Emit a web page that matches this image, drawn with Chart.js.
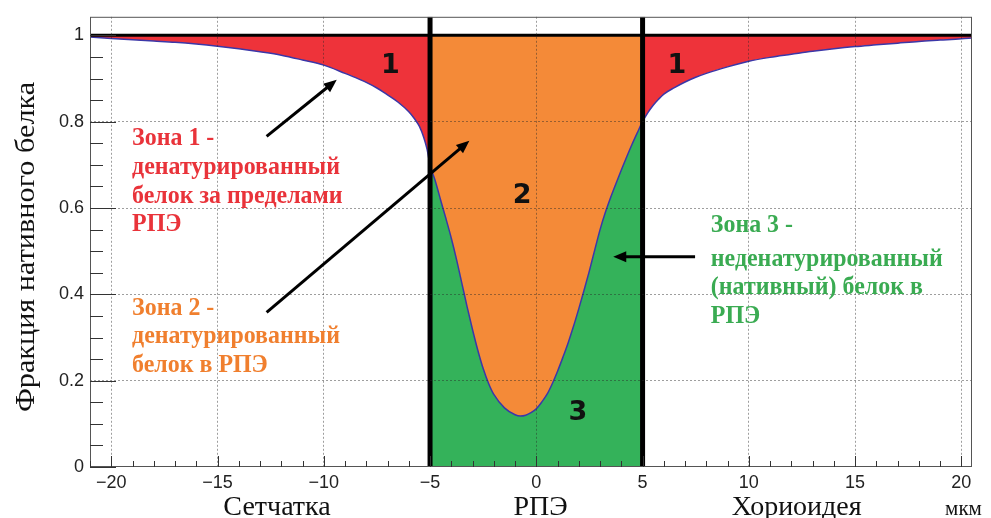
<!DOCTYPE html>
<html lang="ru">
<head>
<meta charset="utf-8">
<title>Фракция нативного белка</title>
<script src="https://cdn.jsdelivr.net/npm/chart.js@4.4.1/dist/chart.umd.min.js"></script>
<style>
  html, body { margin: 0; padding: 0; background: #fff; }
  #chart { display: block; }
</style>
</head>
<body>
<canvas id="chart" width="991" height="518"></canvas>
<script>
// distance across the RPE, um
const posX = [
  -21, -20, -19, -18, -17, -16, -15, -14, -13, -12, -11, -10,
  -9, -8.5, -8, -7.5, -7, -6.5, -6, -5.75, -5.5, -5.3, -5.15, -5,
  -4.75, -4.5, -4.25, -4, -3.75, -3.5, -3.25, -3, -2.75, -2.5, -2.25, -2,
  -1.5, -1, -0.75, -0.5, -0.25, 0, 0.25, 0.5, 0.75, 1, 1.25, 1.5,
  1.75, 2, 2.25, 2.5, 2.75, 3, 3.25, 3.5, 3.75, 4, 4.25, 4.5,
  4.75, 5, 5.25, 5.5, 5.75, 6, 6.5, 7, 7.5, 8, 9, 10,
  11, 12, 13, 14, 15, 16, 17, 18, 19, 20, 20.5
];
// fraction of native protein left
const nativeFrac = [
  0.996, 0.993, 0.990, 0.987, 0.984, 0.980, 0.975, 0.969, 0.962, 0.954, 0.943, 0.931,
  0.912, 0.902, 0.891, 0.878, 0.862, 0.845, 0.823, 0.808, 0.789, 0.764, 0.738, 0.700,
  0.662, 0.618, 0.575, 0.530, 0.480, 0.425, 0.370, 0.318, 0.270, 0.228, 0.194, 0.168,
  0.137, 0.121, 0.118, 0.120, 0.126, 0.135, 0.150, 0.168, 0.193, 0.222, 0.254, 0.288,
  0.326, 0.367, 0.410, 0.455, 0.503, 0.550, 0.590, 0.625, 0.657, 0.688, 0.718, 0.747,
  0.774, 0.800, 0.821, 0.838, 0.852, 0.864, 0.879, 0.892, 0.903, 0.912, 0.927, 0.940,
  0.949, 0.956, 0.963, 0.969, 0.974, 0.978, 0.982, 0.986, 0.989, 0.992, 0.994
];
const rpeEdges = [-5, 5];
const fullLevel = 1;
const xRange = [-21, 20.5];
const yRange = [0, 1.043];
const xMajor = [-20, -15, -10, -5, 0, 5, 10, 15, 20];
const yMajor = [0, 0.2, 0.4, 0.6, 0.8, 1];
const regionNames = ['Сетчатка', 'РПЭ', 'Хориоидея'];
const unitLabel = 'мкм';
const yTitle = 'Фракция нативного белка';
const zoneDigits = ['1', '1', '2', '3'];
const zoneNotes = [
  ['Зона 1 -', 'денатурированный', 'белок за пределами', 'РПЭ'],
  ['Зона 2 -', 'денатурированный', 'белок в РПЭ'],
  ['Зона 3 -', 'неденатурированный', '(нативный) белок в', 'РПЭ']
];

const RED = '#ee333a', ORANGE = '#f48a38', GREEN = '#34b25a';
const gridColor = 'rgba(40,40,40,0.45)';

const pts = posX.map((x, i) => ({ x: x, y: nativeFrac[i] }));
const leftPts = pts.filter(p => p.x <= rpeEdges[0]);
const midPts = pts.filter(p => p.x >= rpeEdges[0] && p.x <= rpeEdges[1]);
const rightPts = pts.filter(p => p.x >= rpeEdges[1]);

const xTickVals = [];
for (let v = Math.ceil(xRange[0]); v <= xRange[1]; v++) xTickVals.push(v);
const yTickVals = [];
for (let i = 0; i <= 20; i++) yTickVals.push(i * 5 / 100);

const isMajorY = v => yMajor.some(m => Math.abs(m - v) < 1e-9);

function fillSet(data, color, target) {
  return {
    data: data, backgroundColor: color, borderColor: 'transparent',
    fill: target, order: 3
  };
}

function text(ctx, str, x, y, font, color, align, sx) {
  ctx.save();
  ctx.translate(x, y);
  ctx.scale(sx || 1, 1);
  ctx.font = font;
  ctx.fillStyle = color;
  ctx.textAlign = align || 'left';
  ctx.fillText(str, 0, 0);
  ctx.restore();
}

function arrow(ctx, x1, y1, x2, y2) {
  const ang = Math.atan2(y2 - y1, x2 - x1);
  const len = 13, half = 5.5;
  ctx.beginPath();
  ctx.moveTo(x1, y1);
  ctx.lineTo(x2 - Math.cos(ang) * len * 0.7, y2 - Math.sin(ang) * len * 0.7);
  ctx.stroke();
  ctx.beginPath();
  ctx.moveTo(x2, y2);
  ctx.lineTo(x2 - Math.cos(ang) * len - Math.sin(ang) * half, y2 - Math.sin(ang) * len + Math.cos(ang) * half);
  ctx.lineTo(x2 - Math.cos(ang) * len + Math.sin(ang) * half, y2 - Math.sin(ang) * len - Math.cos(ang) * half);
  ctx.closePath();
  ctx.fill();
}

// frame, inward ticks, zone notes and arrows
const overlay = {
  id: 'overlay',
  afterDraw(chart) {
    const { ctx, chartArea: a, scales: { x, y } } = chart;
    const px = v => x.getPixelForValue(v);
    const py = v => y.getPixelForValue(v);
    ctx.save();

    ctx.strokeStyle = '#555';
    ctx.lineWidth = 1;
    ctx.strokeRect(a.left + 0.5, a.top + 0.5, a.right - a.left - 1, a.bottom - a.top - 1);

    ctx.strokeStyle = '#333';
    ctx.beginPath();
    x.ticks.forEach(t => {
      const len = xMajor.includes(t.value) ? 11 : 6;
      const X = Math.round(px(t.value)) + 0.5;
      ctx.moveTo(X, a.bottom);
      ctx.lineTo(X, a.bottom - len);
    });
    y.ticks.forEach(t => {
      const len = isMajorY(t.value) ? 26 : 13;
      const Y = Math.round(py(t.value)) + 0.5;
      ctx.moveTo(a.left, Y);
      ctx.lineTo(a.left + len, Y);
    });
    ctx.stroke();

    // axis titles
    ctx.save();
    ctx.translate(27, 247);
    ctx.rotate(-Math.PI / 2);
    ctx.scale(1.12, 1);
    ctx.font = '27px "Liberation Serif", "Times New Roman", serif';
    ctx.fillStyle = '#111';
    ctx.textAlign = 'center';
    ctx.textBaseline = 'middle';
    ctx.fillText(yTitle, 0, 0);
    ctx.restore();

    const serif = '28px "Liberation Serif", "Times New Roman", serif';
    const regionAt = [-12.2, 0.2, 12.25];
    regionNames.forEach((n, i) => text(ctx, n, px(regionAt[i]), a.bottom + 48, serif, '#111', 'center'));
    text(ctx, unitLabel, px(20.1), a.bottom + 48, '21px "Liberation Serif", serif', '#111', 'center');

    // zone numbers
    const digitAt = [[-6.87, 0.928], [6.62, 0.93], [-0.67, 0.628], [1.96, 0.125]];
    ctx.textBaseline = 'middle';
    zoneDigits.forEach((d, i) => {
      text(ctx, d, px(digitAt[i][0]), py(digitAt[i][1]), 'bold 27px "DejaVu Sans", sans-serif', '#111', 'center');
    });
    ctx.textBaseline = 'alphabetic';

    // zone notes
    const bold = 'bold 26px "Liberation Serif", "Times New Roman", serif';
    const noteAt = [[-19.02, 0.745], [-19.02, 0.351], [8.21, 0.545]];
    const noteGap = [[0, 29, 58, 86], [0, 28, 57], [0, 34, 62, 91]];
    const noteColor = ['#e9333a', '#f07f2e', '#3aab52'];
    zoneNotes.forEach((lines, k) => {
      lines.forEach((s, j) => {
        text(ctx, s, px(noteAt[k][0]), py(noteAt[k][1]) + noteGap[k][j], bold, noteColor[k], 'left', 0.92);
      });
    });

    // arrows
    ctx.strokeStyle = '#000';
    ctx.fillStyle = '#000';
    ctx.lineWidth = 3;
    const arrows = [
      [-12.69, 0.766, -9.39, 0.897],
      [-12.69, 0.358, -3.15, 0.756],
      [7.47, 0.487, 3.62, 0.487]
    ];
    arrows.forEach(r => arrow(ctx, px(r[0]), py(r[1]), px(r[2]), py(r[3])));

    ctx.restore();
  }
};

const tickFont = { family: '"Liberation Sans", Arial, sans-serif', size: 18 };

new Chart(document.getElementById('chart'), {
  type: 'line',
  data: {
    datasets: [
      { data: [{ x: xRange[0], y: fullLevel }, { x: xRange[1], y: fullLevel }], borderColor: '#000', borderWidth: 3, order: 0 },
      { data: [{ x: rpeEdges[0], y: yRange[0] }, { x: rpeEdges[0], y: yRange[1] }], borderColor: '#000', borderWidth: 5, order: 0 },
      { data: [{ x: rpeEdges[1], y: yRange[0] }, { x: rpeEdges[1], y: yRange[1] }], borderColor: '#000', borderWidth: 5, order: 0 },
      { data: pts, borderColor: '#3b37a8', borderWidth: 1.5, order: 1 },
      fillSet(leftPts, RED, { value: fullLevel }),
      fillSet(midPts, ORANGE, { value: fullLevel }),
      fillSet(midPts, GREEN, 'origin'),
      fillSet(rightPts, RED, { value: fullLevel })
    ]
  },
  options: {
    responsive: false,
    animation: false,
    devicePixelRatio: 1,
    layout: { padding: { top: 15, right: 19, bottom: 0, left: 0 } },
    elements: {
      point: { radius: 0 },
      line: { cubicInterpolationMode: 'monotone' }
    },
    plugins: { legend: { display: false }, tooltip: { enabled: false } },
    scales: {
      x: {
        type: 'linear',
        min: xRange[0],
        max: xRange[1],
        afterBuildTicks: s => { s.ticks = xTickVals.map(v => ({ value: v })); },
        afterFit: s => { s.height = 51; },
        grid: {
          z: 1,
          drawTicks: false,
          color: c => (xMajor.includes(c.tick.value) && !rpeEdges.includes(c.tick.value)) ? gridColor : 'transparent'
        },
        border: { display: false, dash: [2, 2] },
        ticks: {
          autoSkip: false, maxRotation: 0, padding: 5, color: '#222', font: tickFont,
          callback: v => xMajor.includes(v) ? String(v).replace('-', '\u2212') : ''
        }
      },
      y: {
        min: yRange[0],
        max: yRange[1],
        afterBuildTicks: s => { s.ticks = yTickVals.map(v => ({ value: v })); },
        afterFit: s => { s.width = 90; },
        grid: {
          z: 1,
          drawTicks: false,
          color: c => (isMajorY(c.tick.value) && c.tick.value > 0 && c.tick.value < fullLevel) ? gridColor : 'transparent'
        },
        border: { display: false, dash: [2, 2] },
        ticks: {
          autoSkip: false, padding: 6, color: '#222', font: tickFont,
          callback: v => isMajorY(v) ? (v === 0 || v === 1 ? String(v) : v.toFixed(1)) : ''
        }
      }
    }
  },
  plugins: [overlay]
});
</script>
</body>
</html>
